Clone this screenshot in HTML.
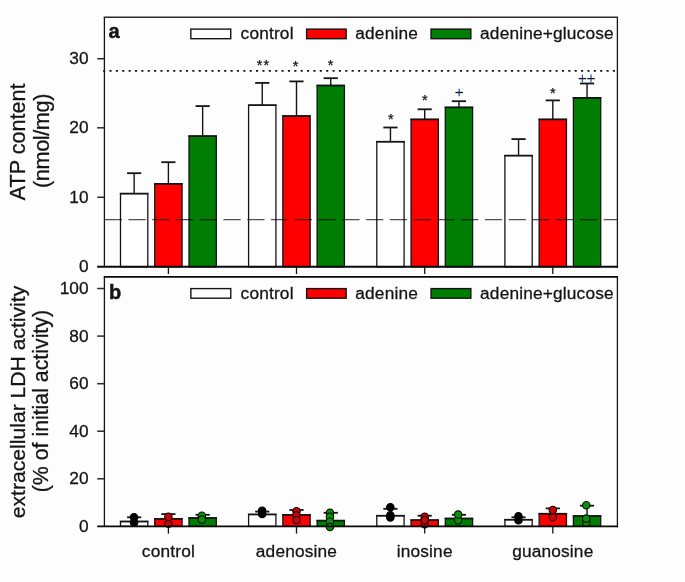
<!DOCTYPE html>
<html><head><meta charset="utf-8"><title>chart</title>
<style>html,body{margin:0;padding:0;background:#fdfdfd;}body{width:685px;height:582px;position:relative;overflow:hidden;font-family:"Liberation Sans",sans-serif;}</style>
</head><body>
<svg width="685" height="582" viewBox="0 0 685 582" style="position:absolute;left:0;top:0;will-change:transform;font-family:'Liberation Sans',sans-serif">
<rect width="685" height="582" fill="#fdfdfd"/>
<path d="M134.15 173.20V193.60" stroke="#141414" stroke-width="1.4" fill="none"/>
<path d="M127.05 173.20H141.25" stroke="#141414" stroke-width="1.8" fill="none"/>
<rect x="120.50" y="193.60" width="27.3" height="73.20" fill="#ffffff" stroke="#141414" stroke-width="1.3"/>
<path d="M119.85 193.60H148.45" stroke="#141414" stroke-width="1.65" fill="none"/>
<path d="M168.40 162.20V183.80" stroke="#141414" stroke-width="1.4" fill="none"/>
<path d="M161.30 162.20H175.50" stroke="#141414" stroke-width="1.8" fill="none"/>
<rect x="154.75" y="183.80" width="27.3" height="83.00" fill="#ff0000" stroke="#141414" stroke-width="1.3"/>
<path d="M154.10 183.80H182.70" stroke="#141414" stroke-width="1.65" fill="none"/>
<path d="M202.65 106.10V136.10" stroke="#141414" stroke-width="1.4" fill="none"/>
<path d="M195.55 106.10H209.75" stroke="#141414" stroke-width="1.8" fill="none"/>
<rect x="189.00" y="136.10" width="27.3" height="130.70" fill="#007d03" stroke="#141414" stroke-width="1.3"/>
<path d="M188.35 136.10H216.95" stroke="#141414" stroke-width="1.65" fill="none"/>
<path d="M262.25 82.90V105.20" stroke="#141414" stroke-width="1.4" fill="none"/>
<path d="M255.15 82.90H269.35" stroke="#141414" stroke-width="1.8" fill="none"/>
<rect x="248.60" y="105.20" width="27.3" height="161.60" fill="#ffffff" stroke="#141414" stroke-width="1.3"/>
<path d="M247.95 105.20H276.55" stroke="#141414" stroke-width="1.65" fill="none"/>
<path d="M296.50 81.40V116.00" stroke="#141414" stroke-width="1.4" fill="none"/>
<path d="M289.40 81.40H303.60" stroke="#141414" stroke-width="1.8" fill="none"/>
<rect x="282.85" y="116.00" width="27.3" height="150.80" fill="#ff0000" stroke="#141414" stroke-width="1.3"/>
<path d="M282.20 116.00H310.80" stroke="#141414" stroke-width="1.65" fill="none"/>
<path d="M330.75 78.20V85.50" stroke="#141414" stroke-width="1.4" fill="none"/>
<path d="M323.65 78.20H337.85" stroke="#141414" stroke-width="1.8" fill="none"/>
<rect x="317.10" y="85.50" width="27.3" height="181.30" fill="#007d03" stroke="#141414" stroke-width="1.3"/>
<path d="M316.45 85.50H345.05" stroke="#141414" stroke-width="1.65" fill="none"/>
<path d="M390.45 127.50V141.70" stroke="#141414" stroke-width="1.4" fill="none"/>
<path d="M383.35 127.50H397.55" stroke="#141414" stroke-width="1.8" fill="none"/>
<rect x="376.80" y="141.70" width="27.3" height="125.10" fill="#ffffff" stroke="#141414" stroke-width="1.3"/>
<path d="M376.15 141.70H404.75" stroke="#141414" stroke-width="1.65" fill="none"/>
<path d="M424.70 109.30V119.40" stroke="#141414" stroke-width="1.4" fill="none"/>
<path d="M417.60 109.30H431.80" stroke="#141414" stroke-width="1.8" fill="none"/>
<rect x="411.05" y="119.40" width="27.3" height="147.40" fill="#ff0000" stroke="#141414" stroke-width="1.3"/>
<path d="M410.40 119.40H439.00" stroke="#141414" stroke-width="1.65" fill="none"/>
<path d="M458.95 101.20V107.40" stroke="#141414" stroke-width="1.4" fill="none"/>
<path d="M451.85 101.20H466.05" stroke="#141414" stroke-width="1.8" fill="none"/>
<rect x="445.30" y="107.40" width="27.3" height="159.40" fill="#007d03" stroke="#141414" stroke-width="1.3"/>
<path d="M444.65 107.40H473.25" stroke="#141414" stroke-width="1.65" fill="none"/>
<path d="M518.55 139.10V155.60" stroke="#141414" stroke-width="1.4" fill="none"/>
<path d="M511.45 139.10H525.65" stroke="#141414" stroke-width="1.8" fill="none"/>
<rect x="504.90" y="155.60" width="27.3" height="111.20" fill="#ffffff" stroke="#141414" stroke-width="1.3"/>
<path d="M504.25 155.60H532.85" stroke="#141414" stroke-width="1.65" fill="none"/>
<path d="M552.80 100.40V119.40" stroke="#141414" stroke-width="1.4" fill="none"/>
<path d="M545.70 100.40H559.90" stroke="#141414" stroke-width="1.8" fill="none"/>
<rect x="539.15" y="119.40" width="27.3" height="147.40" fill="#ff0000" stroke="#141414" stroke-width="1.3"/>
<path d="M538.50 119.40H567.10" stroke="#141414" stroke-width="1.65" fill="none"/>
<path d="M587.05 83.50V97.80" stroke="#141414" stroke-width="1.4" fill="none"/>
<path d="M579.95 83.50H594.15" stroke="#141414" stroke-width="1.8" fill="none"/>
<rect x="573.40" y="97.80" width="27.3" height="169.00" fill="#007d03" stroke="#141414" stroke-width="1.3"/>
<path d="M572.75 97.80H601.35" stroke="#141414" stroke-width="1.65" fill="none"/>
<path d="M104.7 219.7H617.4" stroke="#000" stroke-opacity="0.68" stroke-width="1.25" stroke-dasharray="17.25 6.51" fill="none"/>
<path d="M103.1 70.8H617.4" stroke="#141414" stroke-width="1.8" stroke-dasharray="2.1 4.2725" fill="none"/>
<path d="M104.40 17.20V266.80" stroke="#141414" stroke-width="1.3" fill="none"/>
<path d="M617.40 17.20V267.75" stroke="#141414" stroke-width="1.3" fill="none"/>
<path d="M103.75 17.20H618.05" stroke="#2a2a2a" stroke-width="1.6" fill="none"/>
<path d="M97.20 266.80H618.05" stroke="#0a0a0a" stroke-width="1.9" fill="none"/>
<path d="M97.20 197.30H104.40" stroke="#2a2a2a" stroke-width="1.5" fill="none"/>
<path d="M97.20 127.80H104.40" stroke="#2a2a2a" stroke-width="1.5" fill="none"/>
<path d="M97.20 58.70H104.40" stroke="#2a2a2a" stroke-width="1.5" fill="none"/>
<text x="88.6" y="272.2" font-size="17.3" text-anchor="end" font-weight="normal" fill="#141414" stroke="#141414" stroke-width="0.28" >0</text>
<text x="88.6" y="202.8" font-size="17.3" text-anchor="end" font-weight="normal" fill="#141414" stroke="#141414" stroke-width="0.28" >10</text>
<text x="88.6" y="133.3" font-size="17.3" text-anchor="end" font-weight="normal" fill="#141414" stroke="#141414" stroke-width="0.28" >20</text>
<text x="88.6" y="64.2" font-size="17.3" text-anchor="end" font-weight="normal" fill="#141414" stroke="#141414" stroke-width="0.28" >30</text>
<path d="M168.40 266.80V274.00" stroke="#141414" stroke-width="1.3" fill="none"/>
<path d="M168.40 526.40V533.60" stroke="#141414" stroke-width="1.3" fill="none"/>
<path d="M296.50 266.80V274.00" stroke="#141414" stroke-width="1.3" fill="none"/>
<path d="M296.50 526.40V533.60" stroke="#141414" stroke-width="1.3" fill="none"/>
<path d="M424.70 266.80V274.00" stroke="#141414" stroke-width="1.3" fill="none"/>
<path d="M424.70 526.40V533.60" stroke="#141414" stroke-width="1.3" fill="none"/>
<path d="M552.80 266.80V274.00" stroke="#141414" stroke-width="1.3" fill="none"/>
<path d="M552.80 526.40V533.60" stroke="#141414" stroke-width="1.3" fill="none"/>
<rect x="190.85" y="29.10" width="39.90" height="9.6" fill="#ffffff" stroke="#141414" stroke-width="1.4"/>
<text x="240.6" y="39.4" font-size="17.3" text-anchor="start" font-weight="normal" fill="#141414" stroke="#141414" stroke-width="0.28" letter-spacing="0.17">control</text>
<rect x="306.65" y="29.10" width="39.50" height="9.6" fill="#ff0000" stroke="#141414" stroke-width="1.4"/>
<text x="355.3" y="39.4" font-size="17.3" text-anchor="start" font-weight="normal" fill="#141414" stroke="#141414" stroke-width="0.28" letter-spacing="0.17">adenine</text>
<rect x="431.05" y="29.10" width="39.80" height="9.6" fill="#007d03" stroke="#141414" stroke-width="1.4"/>
<text x="480.1" y="39.4" font-size="17.3" text-anchor="start" font-weight="normal" fill="#141414" stroke="#141414" stroke-width="0.28" letter-spacing="0.17">adenine+glucose</text>
<text x="108.5" y="37.9" font-size="20" text-anchor="start" font-weight="bold" fill="#141414" stroke="#141414" stroke-width="0.45" >a</text>
<text x="259.7" y="70.0" font-size="14.5" text-anchor="middle" font-weight="normal" fill="#141414" stroke="#141414" stroke-width="0.25" >*</text>
<text x="266.4" y="70.0" font-size="14.5" text-anchor="middle" font-weight="normal" fill="#141414" stroke="#141414" stroke-width="0.25" >*</text>
<text x="295.6" y="71.1" font-size="14.5" text-anchor="middle" font-weight="normal" fill="#141414" stroke="#141414" stroke-width="0.25" >*</text>
<text x="330.6" y="69.5" font-size="14.5" text-anchor="middle" font-weight="normal" fill="#141414" stroke="#141414" stroke-width="0.25" >*</text>
<text x="390.8" y="124.1" font-size="14.5" text-anchor="middle" font-weight="normal" fill="#141414" stroke="#141414" stroke-width="0.25" >*</text>
<text x="424.8" y="104.9" font-size="14.5" text-anchor="middle" font-weight="normal" fill="#141414" stroke="#141414" stroke-width="0.25" >*</text>
<text x="552.8" y="98.3" font-size="14.5" text-anchor="middle" font-weight="normal" fill="#141414" stroke="#141414" stroke-width="0.25" >*</text>
<path d="M459.20 88.85V96.15" stroke="#2f5f96" stroke-width="1.3" fill="none"/>
<path d="M455.40 92.50H463.00" stroke="#16161e" stroke-width="1.3" fill="none"/>
<path d="M582.40 74.60V82.60" stroke="#2f5f96" stroke-width="1.3" fill="none"/>
<path d="M578.60 78.60H586.20" stroke="#16161e" stroke-width="1.3" fill="none"/>
<path d="M591.00 74.60V82.60" stroke="#2f5f96" stroke-width="1.3" fill="none"/>
<path d="M587.20 78.60H594.80" stroke="#16161e" stroke-width="1.3" fill="none"/>
<text x="0" y="0" font-size="21.6" text-anchor="middle" font-weight="normal" fill="#141414" stroke="#141414" stroke-width="0.28" transform="translate(24.8,141.8) rotate(-90)">ATP content</text>
<text x="0" y="0" font-size="21.7" text-anchor="middle" font-weight="normal" fill="#141414" stroke="#141414" stroke-width="0.28" transform="translate(48.5,141.0) rotate(-90)" letter-spacing="-0.4">(nmol/mg)</text>
<rect x="120.50" y="521.50" width="27.3" height="4.90" fill="#ffffff" stroke="#141414" stroke-width="1.3"/>
<path d="M119.85 521.50H148.45" stroke="#141414" stroke-width="1.65" fill="none"/>
<path d="M134.15 517.30V521.50" stroke="#141414" stroke-width="1.4" fill="none"/>
<path d="M127.05 517.30H141.25" stroke="#141414" stroke-width="1.8" fill="none"/>
<circle cx="134.05" cy="522.4" r="3.7" fill="#000000" stroke="#000000" stroke-width="1.2"/>
<circle cx="134.05" cy="517.3" r="3.7" fill="#000000" stroke="#000000" stroke-width="1.2"/>
<rect x="154.75" y="518.80" width="27.3" height="7.60" fill="#ff0000" stroke="#141414" stroke-width="1.3"/>
<path d="M154.10 518.80H182.70" stroke="#141414" stroke-width="1.65" fill="none"/>
<path d="M168.40 514.10V518.80" stroke="#141414" stroke-width="1.4" fill="none"/>
<path d="M161.30 514.10H175.50" stroke="#141414" stroke-width="1.8" fill="none"/>
<circle cx="168.40" cy="523.8" r="3.7" fill="#c40808" stroke="#2a0000" stroke-width="1.2"/>
<circle cx="168.40" cy="516.9" r="3.7" fill="#c40808" stroke="#2a0000" stroke-width="1.2"/>
<rect x="189.00" y="518.00" width="27.3" height="8.40" fill="#007d03" stroke="#141414" stroke-width="1.3"/>
<path d="M188.35 518.00H216.95" stroke="#141414" stroke-width="1.65" fill="none"/>
<path d="M202.65 514.80V518.00" stroke="#141414" stroke-width="1.4" fill="none"/>
<path d="M195.55 514.80H209.75" stroke="#141414" stroke-width="1.8" fill="none"/>
<circle cx="201.85" cy="515.7" r="3.7" fill="#0c900c" stroke="#001a00" stroke-width="1.2"/>
<circle cx="201.85" cy="519.6" r="3.7" fill="#0c900c" stroke="#001a00" stroke-width="1.2"/>
<rect x="248.60" y="514.45" width="27.3" height="11.95" fill="#ffffff" stroke="#141414" stroke-width="1.3"/>
<path d="M247.95 514.45H276.55" stroke="#141414" stroke-width="1.65" fill="none"/>
<path d="M262.25 511.60V514.45" stroke="#141414" stroke-width="1.4" fill="none"/>
<path d="M255.15 511.60H269.35" stroke="#141414" stroke-width="1.8" fill="none"/>
<circle cx="262.15" cy="514.0" r="3.7" fill="#000000" stroke="#000000" stroke-width="1.2"/>
<circle cx="262.15" cy="510.9" r="3.7" fill="#000000" stroke="#000000" stroke-width="1.2"/>
<rect x="282.85" y="514.80" width="27.3" height="11.60" fill="#ff0000" stroke="#141414" stroke-width="1.3"/>
<path d="M282.20 514.80H310.80" stroke="#141414" stroke-width="1.65" fill="none"/>
<path d="M296.50 510.00V514.80" stroke="#141414" stroke-width="1.4" fill="none"/>
<path d="M289.40 510.00H303.60" stroke="#141414" stroke-width="1.8" fill="none"/>
<circle cx="296.50" cy="511.2" r="3.7" fill="#c40808" stroke="#2a0000" stroke-width="1.2"/>
<circle cx="296.50" cy="515.3" r="3.7" fill="#c40808" stroke="#2a0000" stroke-width="1.2"/>
<circle cx="296.50" cy="520.1" r="3.7" fill="#c40808" stroke="#2a0000" stroke-width="1.2"/>
<rect x="317.10" y="520.60" width="27.3" height="5.80" fill="#007d03" stroke="#141414" stroke-width="1.3"/>
<path d="M316.45 520.60H345.05" stroke="#141414" stroke-width="1.65" fill="none"/>
<path d="M330.75 512.80V520.60" stroke="#141414" stroke-width="1.4" fill="none"/>
<path d="M323.65 512.80H337.85" stroke="#141414" stroke-width="1.8" fill="none"/>
<circle cx="329.95" cy="512.8" r="3.7" fill="#0c900c" stroke="#001a00" stroke-width="1.2"/>
<circle cx="329.95" cy="516.9" r="3.7" fill="#0c900c" stroke="#001a00" stroke-width="1.2"/>
<circle cx="329.95" cy="521.7" r="3.7" fill="#0c900c" stroke="#001a00" stroke-width="1.2"/>
<circle cx="329.95" cy="527.0" r="3.7" fill="#0c900c" stroke="#001a00" stroke-width="1.2"/>
<rect x="376.80" y="515.70" width="27.3" height="10.70" fill="#ffffff" stroke="#141414" stroke-width="1.3"/>
<path d="M376.15 515.70H404.75" stroke="#141414" stroke-width="1.65" fill="none"/>
<path d="M390.45 508.80V515.70" stroke="#141414" stroke-width="1.4" fill="none"/>
<path d="M383.35 508.80H397.55" stroke="#141414" stroke-width="1.8" fill="none"/>
<circle cx="390.35" cy="517.4" r="3.7" fill="#000000" stroke="#000000" stroke-width="1.2"/>
<circle cx="390.35" cy="515.4" r="3.7" fill="#000000" stroke="#000000" stroke-width="1.2"/>
<circle cx="390.35" cy="507.2" r="3.7" fill="#000000" stroke="#000000" stroke-width="1.2"/>
<rect x="411.05" y="520.10" width="27.3" height="6.30" fill="#ff0000" stroke="#141414" stroke-width="1.3"/>
<path d="M410.40 520.10H439.00" stroke="#141414" stroke-width="1.65" fill="none"/>
<path d="M424.70 515.70V520.10" stroke="#141414" stroke-width="1.4" fill="none"/>
<path d="M417.60 515.70H431.80" stroke="#141414" stroke-width="1.8" fill="none"/>
<circle cx="424.70" cy="516.9" r="3.7" fill="#c40808" stroke="#2a0000" stroke-width="1.2"/>
<circle cx="424.70" cy="524.1" r="3.7" fill="#c40808" stroke="#2a0000" stroke-width="1.2"/>
<circle cx="424.70" cy="520.1" r="3.7" fill="#c40808" stroke="#2a0000" stroke-width="1.2"/>
<rect x="445.30" y="518.50" width="27.3" height="7.90" fill="#007d03" stroke="#141414" stroke-width="1.3"/>
<path d="M444.65 518.50H473.25" stroke="#141414" stroke-width="1.65" fill="none"/>
<path d="M458.95 514.80V518.50" stroke="#141414" stroke-width="1.4" fill="none"/>
<path d="M451.85 514.80H466.05" stroke="#141414" stroke-width="1.8" fill="none"/>
<circle cx="458.15" cy="520.1" r="3.7" fill="#0c900c" stroke="#001a00" stroke-width="1.2"/>
<circle cx="458.15" cy="514.5" r="3.7" fill="#0c900c" stroke="#001a00" stroke-width="1.2"/>
<rect x="504.90" y="519.70" width="27.3" height="6.70" fill="#ffffff" stroke="#141414" stroke-width="1.3"/>
<path d="M504.25 519.70H532.85" stroke="#141414" stroke-width="1.65" fill="none"/>
<path d="M518.55 517.30V519.70" stroke="#141414" stroke-width="1.4" fill="none"/>
<path d="M511.45 517.30H525.65" stroke="#141414" stroke-width="1.8" fill="none"/>
<circle cx="518.45" cy="520.2" r="3.7" fill="#000000" stroke="#000000" stroke-width="1.2"/>
<circle cx="518.45" cy="516.3" r="3.7" fill="#000000" stroke="#000000" stroke-width="1.2"/>
<rect x="539.15" y="513.70" width="27.3" height="12.70" fill="#ff0000" stroke="#141414" stroke-width="1.3"/>
<path d="M538.50 513.70H567.10" stroke="#141414" stroke-width="1.65" fill="none"/>
<path d="M552.80 508.40V513.70" stroke="#141414" stroke-width="1.4" fill="none"/>
<path d="M545.70 508.40H559.90" stroke="#141414" stroke-width="1.8" fill="none"/>
<circle cx="552.80" cy="510.0" r="3.7" fill="#c40808" stroke="#2a0000" stroke-width="1.2"/>
<circle cx="552.80" cy="517.3" r="3.7" fill="#c40808" stroke="#2a0000" stroke-width="1.2"/>
<rect x="573.40" y="516.00" width="27.3" height="10.40" fill="#007d03" stroke="#141414" stroke-width="1.3"/>
<path d="M572.75 516.00H601.35" stroke="#141414" stroke-width="1.65" fill="none"/>
<path d="M587.05 505.70V516.00" stroke="#141414" stroke-width="1.4" fill="none"/>
<path d="M579.95 505.70H594.15" stroke="#141414" stroke-width="1.8" fill="none"/>
<circle cx="586.25" cy="522.4" r="3.7" fill="#0c900c" stroke="#001a00" stroke-width="1.2"/>
<circle cx="586.25" cy="518.6" r="3.7" fill="#0c900c" stroke="#001a00" stroke-width="1.2"/>
<circle cx="586.25" cy="505.2" r="3.7" fill="#0c900c" stroke="#001a00" stroke-width="1.2"/>
<path d="M104.40 276.85V526.40" stroke="#141414" stroke-width="1.3" fill="none"/>
<path d="M617.40 276.85V527.35" stroke="#141414" stroke-width="1.3" fill="none"/>
<path d="M103.75 276.85H618.05" stroke="#0a0a0a" stroke-width="1.8" fill="none"/>
<path d="M97.20 526.40H618.05" stroke="#0a0a0a" stroke-width="1.9" fill="none"/>
<path d="M97.20 478.80H104.40" stroke="#2a2a2a" stroke-width="1.5" fill="none"/>
<path d="M97.20 431.20H104.40" stroke="#2a2a2a" stroke-width="1.5" fill="none"/>
<path d="M97.20 383.70H104.40" stroke="#2a2a2a" stroke-width="1.5" fill="none"/>
<path d="M97.20 336.10H104.40" stroke="#2a2a2a" stroke-width="1.5" fill="none"/>
<path d="M97.20 288.50H104.40" stroke="#2a2a2a" stroke-width="1.5" fill="none"/>
<text x="88.6" y="531.9" font-size="17.3" text-anchor="end" font-weight="normal" fill="#141414" stroke="#141414" stroke-width="0.28" >0</text>
<text x="88.6" y="484.3" font-size="17.3" text-anchor="end" font-weight="normal" fill="#141414" stroke="#141414" stroke-width="0.28" >20</text>
<text x="88.6" y="436.7" font-size="17.3" text-anchor="end" font-weight="normal" fill="#141414" stroke="#141414" stroke-width="0.28" >40</text>
<text x="88.6" y="389.2" font-size="17.3" text-anchor="end" font-weight="normal" fill="#141414" stroke="#141414" stroke-width="0.28" >60</text>
<text x="88.6" y="341.6" font-size="17.3" text-anchor="end" font-weight="normal" fill="#141414" stroke="#141414" stroke-width="0.28" >80</text>
<text x="88.6" y="294.0" font-size="17.3" text-anchor="end" font-weight="normal" fill="#141414" stroke="#141414" stroke-width="0.28" >100</text>
<rect x="190.85" y="288.60" width="39.90" height="9.6" fill="#ffffff" stroke="#141414" stroke-width="1.4"/>
<text x="240.6" y="298.9" font-size="17.3" text-anchor="start" font-weight="normal" fill="#141414" stroke="#141414" stroke-width="0.28" letter-spacing="0.17">control</text>
<rect x="306.65" y="288.60" width="39.50" height="9.6" fill="#ff0000" stroke="#141414" stroke-width="1.4"/>
<text x="355.3" y="298.9" font-size="17.3" text-anchor="start" font-weight="normal" fill="#141414" stroke="#141414" stroke-width="0.28" letter-spacing="0.17">adenine</text>
<rect x="431.05" y="288.60" width="39.80" height="9.6" fill="#007d03" stroke="#141414" stroke-width="1.4"/>
<text x="480.1" y="298.9" font-size="17.3" text-anchor="start" font-weight="normal" fill="#141414" stroke="#141414" stroke-width="0.28" letter-spacing="0.17">adenine+glucose</text>
<text x="109.1" y="298.8" font-size="20" text-anchor="start" font-weight="bold" fill="#141414" stroke="#141414" stroke-width="0.45" >b</text>
<text x="168.4" y="557.0" font-size="17.3" text-anchor="middle" font-weight="normal" fill="#141414" stroke="#141414" stroke-width="0.28" letter-spacing="0.17">control</text>
<text x="296.5" y="557.0" font-size="17.3" text-anchor="middle" font-weight="normal" fill="#141414" stroke="#141414" stroke-width="0.28" letter-spacing="0.17">adenosine</text>
<text x="424.7" y="557.0" font-size="17.3" text-anchor="middle" font-weight="normal" fill="#141414" stroke="#141414" stroke-width="0.28" letter-spacing="0.17">inosine</text>
<text x="552.8" y="557.0" font-size="17.3" text-anchor="middle" font-weight="normal" fill="#141414" stroke="#141414" stroke-width="0.28" letter-spacing="0.17">guanosine</text>
<text x="0" y="0" font-size="21.13" text-anchor="middle" font-weight="normal" fill="#141414" stroke="#141414" stroke-width="0.28" transform="translate(24.9,402.0) rotate(-90)">extracellular LDH activity</text>
<text x="0" y="0" font-size="21.3" text-anchor="middle" font-weight="normal" fill="#141414" stroke="#141414" stroke-width="0.28" transform="translate(48.3,401.1) rotate(-90)">(% of initial activity)</text>
</svg>
</body></html>
